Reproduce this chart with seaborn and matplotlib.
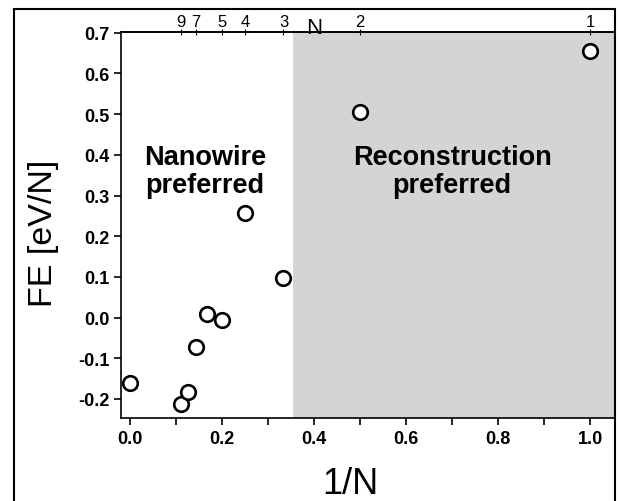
import matplotlib
matplotlib.use("Agg")
import matplotlib.pyplot as plt
from matplotlib.patches import Rectangle
from matplotlib.ticker import MultipleLocator
import pandas as pd
import seaborn as sns

# formation energy per atom vs inverse wire length
inv_n = [0.0, 1/9, 1/8, 1/7, 1/6, 1/5, 1/4, 1/3, 1/2, 1.0]
fe = [-0.162, -0.212, -0.184, -0.072, 0.009, -0.007, 0.258, 0.098, 0.506, 0.655]

top_n = [9, 7, 5, 4, 3, 2, 1]
shade_start = 0.355

sns.set_style("ticks")
plt.rcParams["font.family"] = ["Liberation Sans", "DejaVu Sans"]
plt.rcParams.update({"text.color": "black", "axes.labelcolor": "black",
                     "xtick.color": "black", "ytick.color": "black",
                     "axes.edgecolor": "black"})

df = pd.DataFrame({"inv_n": inv_n, "fe": fe})

fig = plt.figure(figsize=(6.19, 5.02), dpi=100)
ax = fig.add_axes([121/619, 1 - 419/502, 493/619, 386/502])

ax.axvspan(shade_start, 1.06, color="#d4d4d4", lw=0, zorder=0)
sns.scatterplot(data=df, x="inv_n", y="fe", ax=ax, s=110, color="white",
                edgecolor="black", linewidth=1.9, zorder=3, legend=False)

ax.set_xlim(-0.02, 1.052)
ax.set_ylim(-0.247, 0.702)
ax.xaxis.set_major_locator(MultipleLocator(0.2))
ax.xaxis.set_minor_locator(MultipleLocator(0.1))
ax.yaxis.set_major_locator(MultipleLocator(0.1))
ax.tick_params(axis="both", which="both", direction="out", length=5, width=1.2)
ax.yaxis.set_major_formatter(plt.FuncFormatter(lambda v, p: f"{v:.1f}"))
ax.xaxis.set_major_formatter(plt.FuncFormatter(lambda v, p: f"{v:.1f}"))
for lab in ax.get_xticklabels() + ax.get_yticklabels():
    lab.set_fontweight("bold")
    lab.set_fontsize(13)

ax.set_xlabel("1/N", fontsize=26)
ax.set_ylabel("FE [eV/N]", fontsize=24.5)
ax.xaxis.set_label_coords(0.465, -0.125)
ax.yaxis.set_label_coords(-0.126, 0.48)

for s in ["left", "bottom", "top"]:
    ax.spines[s].set_linewidth(1.2)
ax.spines["right"].set_visible(False)

top = ax.secondary_xaxis("top")
top.set_xticks([1 / n for n in top_n])
top.set_xticklabels([str(n) for n in top_n], fontsize=12)
top.tick_params(direction="inout", length=5, width=0.8, pad=0)
top.spines["top"].set_linewidth(1.2)
ax.text(0.40, 0.699, "N", fontsize=16, ha="center", va="baseline")

ax.text(0.163, 0.36, "Nanowire\npreferred", fontsize=19.5, fontweight="bold",
        ha="center", va="center", linespacing=1.1)
ax.text(0.7, 0.36, "Reconstruction\npreferred", fontsize=19.5, fontweight="bold",
        ha="center", va="center", linespacing=1.1)

fig.patches.append(Rectangle((14/619, -0.02), 601/619, 1 - 10/502 + 0.02,
                             transform=fig.transFigure, fill=False,
                             edgecolor="black", linewidth=1.5))

fig.savefig("out.png", dpi=100)
